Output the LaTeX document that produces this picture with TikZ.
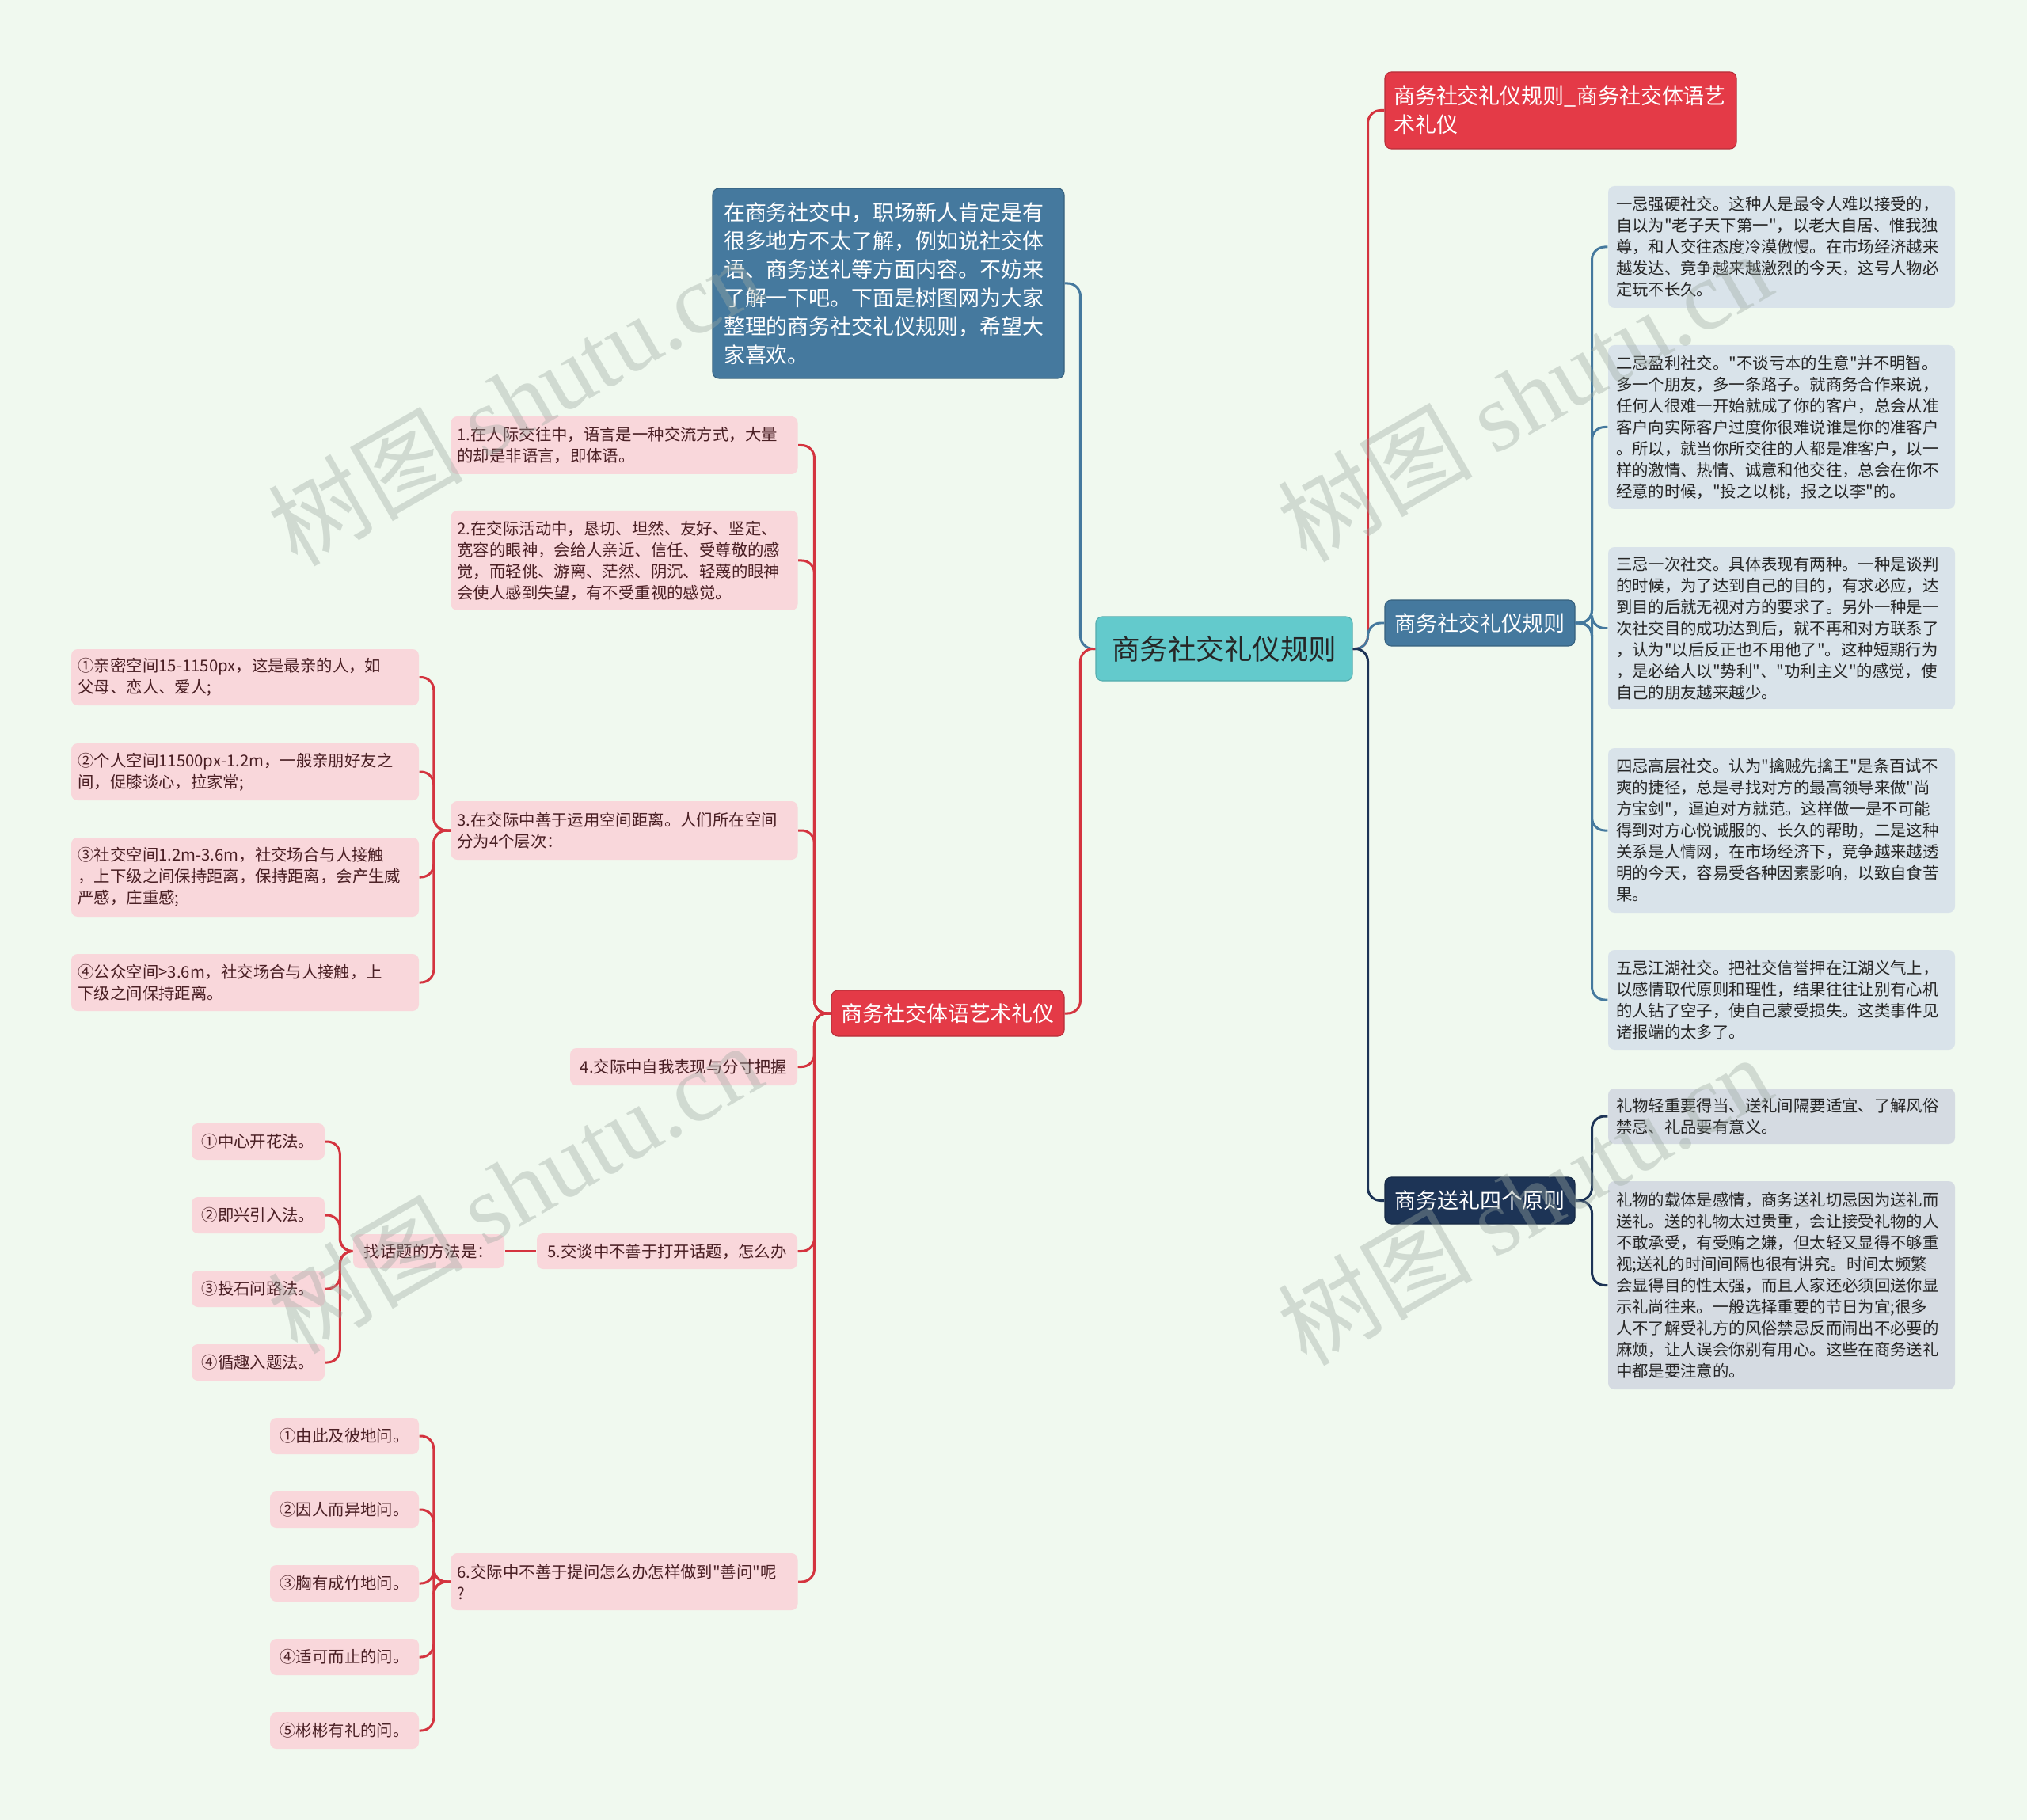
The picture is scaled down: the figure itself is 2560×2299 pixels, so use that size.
\documentclass[tikz,border=0pt]{standalone}
\usepackage{fontspec}
\setmainfont{Noto Sans CJK SC}
\newfontfamily\cjk{Noto Sans CJK SC}
\newfontfamily\wmserif{Liberation Serif}
\definecolor{bgc}{HTML}{F0F9EF}
\definecolor{rootc}{HTML}{63CACC}
\definecolor{bluec}{HTML}{45799E}
\definecolor{redc}{HTML}{E43A47}
\definecolor{navyc}{HTML}{1D3456}
\definecolor{rleafc}{HTML}{D9E3EA}
\definecolor{gleafc}{HTML}{D5DBE2}
\definecolor{pinkc}{HTML}{F9D7DB}
\definecolor{pinktxt}{HTML}{4A1F24}
\definecolor{darktxt}{HTML}{262626}
\definecolor{redline}{HTML}{D4343F}
\definecolor{wmc}{HTML}{9DAAA2}
\begin{document}
\begin{tikzpicture}[x=0.1mm,y=-0.1mm,
  box/.style={rounded corners=0.8mm, inner xsep=0pt, inner ysep=0pt, align=left},
  small/.style={font={\cjk\fontsize{5.8pt}{7.68pt}\selectfont}},
  mid/.style={font={\cjk\fontsize{7.68pt}{10.24pt}\selectfont}},
  rleaf/.style={box, small, fill=rleafc, text=darktxt, minimum width=43.8mm, text width=41.8mm},
  gleaf/.style={box, small, fill=gleafc, text=darktxt, minimum width=43.8mm, text width=41.8mm},
  pleaf/.style={box, small, fill=pinkc, text=pinktxt},
  wideleaf/.style={pleaf, minimum width=43.8mm, text width=42.2mm},
  shortleaf/.style={pleaf, align=center},
  topic/.style={box, mid, text=white, draw=#1!80!black, line width=0.3pt, fill=#1},
  conn/.style={line width=0.3mm, rounded corners=1.6mm, draw=#1},
  wm/.style={text=wmc, opacity=0.38, rotate=30, font={\cjk\fontsize{35pt}{35pt}\selectfont}}
]
\useasboundingbox (0,0) rectangle (2560,2299);
\fill[bgc] (0,0) rectangle (2560,2299);

% ---- main nodes
\node[box, fill=rootc, draw=rootc!85!black, line width=0.3pt, text=darktxt, align=center,
  minimum width=32.4mm, minimum height=8.1mm, font={\cjk\fontsize{10.1pt}{12pt}\selectfont}] (root) at (1546,819.5) {商务社交礼仪规则};

\node[topic=bluec, minimum width=44.4mm, text width=41.6mm, minimum height=24mm] (intro) at (1122,358)
 {在商务社交中，职场新人肯定是有\\很多地方不太了解，例如说社交体\\语、商务送礼等方面内容。不妨来\\了解一下吧。下面是树图网为大家\\整理的商务社交礼仪规则，希望大\\家喜欢。};

\node[topic=redc, minimum width=44.4mm, text width=42.2mm, minimum height=9.7mm] (rtop) at (1971,139.5)
 {商务社交礼仪规则\_商务社交体语艺\\术礼仪};

\node[topic=bluec, align=center, minimum width=24mm, minimum height=5.8mm] (rules) at (1869,787) {商务社交礼仪规则};
\node[topic=navyc, align=center, minimum width=24mm, minimum height=5.9mm] (gift) at (1869,1516.5) {商务送礼四个原则};
\node[topic=redc, align=center, minimum width=29.4mm, minimum height=5.8mm] (body) at (1197,1280) {商务社交体语艺术礼仪};

% ---- right leaves
\node[rleaf, minimum height=15.4mm] (r1) at (2250,312)
 {一忌强硬社交。这种人是最令人难以接受的，\\自以为"老子天下第一"，以老大自居、惟我独\\尊，和人交往态度冷漠傲慢。在市场经济越来\\越发达、竞争越来越激烈的今天，这号人物必\\定玩不长久。};
\node[rleaf, minimum height=20.7mm] (r2) at (2250,539.5)
 {二忌盈利社交。"不谈亏本的生意"并不明智。\\多一个朋友，多一条路子。就商务合作来说，\\任何人很难一开始就成了你的客户，总会从准\\客户向实际客户过度你很难说谁是你的准客户\\。所以，就当你所交往的人都是准客户，以一\\样的激情、热情、诚意和他交往，总会在你不\\经意的时候，"投之以桃，报之以李"的。};
\node[rleaf, minimum height=20.5mm] (r3) at (2250,793.5)
 {三忌一次社交。具体表现有两种。一种是谈判\\的时候，为了达到自己的目的，有求必应，达\\到目的后就无视对方的要求了。另外一种是一\\次社交目的成功达到后，就不再和对方联系了\\，认为"以后反正也不用他了"。这种短期行为\\，是必给人以"势利"、"功利主义"的感觉，使\\自己的朋友越来越少。};
\node[rleaf, minimum height=20.8mm] (r4) at (2250,1049)
 {四忌高层社交。认为"擒贼先擒王"是条百试不\\爽的捷径，总是寻找对方的最高领导来做"尚\\方宝剑"，逼迫对方就范。这样做一是不可能\\得到对方心悦诚服的、长久的帮助，二是这种\\关系是人情网，在市场经济下，竞争越来越透\\明的今天，容易受各种因素影响，以致自食苦\\果。};
\node[rleaf, minimum height=12.6mm] (r5) at (2250,1263)
 {五忌江湖社交。把社交信誉押在江湖义气上，\\以感情取代原则和理性，结果往往让别有心机\\的人钻了空子，使自己蒙受损失。这类事件见\\诸报端的太多了。};
\node[gleaf, minimum height=7mm] (g1) at (2250,1410)
 {礼物轻重要得当、送礼间隔要适宜、了解风俗\\禁忌、礼品要有意义。};
\node[gleaf, minimum height=26.3mm] (g2) at (2250,1623.5)
 {礼物的载体是感情，商务送礼切忌因为送礼而\\送礼。送的礼物太过贵重，会让接受礼物的人\\不敢承受，有受贿之嫌，但太轻又显得不够重\\视;送礼的时间间隔也很有讲究。时间太频繁\\会显得目的性太强，而且人家还必须回送你显\\示礼尚往来。一般选择重要的节日为宜;很多\\人不了解受礼方的风俗禁忌反而闹出不必要的\\麻烦，让人误会你别有用心。这些在商务送礼\\中都是要注意的。};

% ---- left leaves
\node[wideleaf, minimum height=7.3mm] (l1) at (788.5,562.5)
 {1.在人际交往中，语言是一种交流方式，大量\\的却是非语言，即体语。};
\node[wideleaf, minimum height=12.6mm] (l2) at (788.5,708)
 {2.在交际活动中，恳切、坦然、友好、坚定、\\宽容的眼神，会给人亲近、信任、受尊敬的感\\觉，而轻佻、游离、茫然、阴沉、轻蔑的眼神\\会使人感到失望，有不受重视的感觉。};
\node[wideleaf, minimum height=7.4mm] (l3) at (788.5,1049)
 {3.在交际中善于运用空间距离。人们所在空间\\分为4个层次：};
\node[shortleaf, minimum width=28.7mm, minimum height=4.7mm] (l4) at (863.5,1347.5)
 {4.交际中自我表现与分寸把握};
\node[shortleaf, minimum width=32.9mm, minimum height=4.5mm] (l5) at (842.5,1580.5)
 {5.交谈中不善于打开话题，怎么办};
\node[wideleaf, minimum height=7.2mm] (l6) at (788.5,1998)
 {6.交际中不善于提问怎么办怎样做到"善问"呢\\?};

% ---- level 3 (space)
\node[wideleaf, minimum width=43.9mm, minimum height=7.1mm] (s1) at (309.5,855.5)
 {①亲密空间15-1150px，这是最亲的人，如\\父母、恋人、爱人;};
\node[wideleaf, minimum width=43.9mm, minimum height=7.2mm] (s2) at (309.5,975)
 {②个人空间11500px-1.2m，一般亲朋好友之\\间，促膝谈心，拉家常;};
\node[wideleaf, minimum width=43.9mm, minimum height=10mm] (s3) at (309.5,1108)
 {③社交空间1.2m-3.6m，社交场合与人接触\\，上下级之间保持距离，保持距离，会产生威\\严感，庄重感;};
\node[wideleaf, minimum width=43.9mm, minimum height=7.2mm] (s4) at (309.5,1241)
 {④公众空间>3.6m，社交场合与人接触，上\\下级之间保持距离。};

% ---- topic finding
\node[shortleaf, minimum width=19.1mm, minimum height=4.3mm] (find) at (541.5,1580.5) {找话题的方法是：};
\node[shortleaf, minimum width=16.8mm, minimum height=4.6mm] (f1) at (326,1442) {①中心开花法。};
\node[shortleaf, minimum width=16.8mm, minimum height=4.6mm] (f2) at (326,1535) {②即兴引入法。};
\node[shortleaf, minimum width=16.8mm, minimum height=4.6mm] (f3) at (326,1628) {③投石问路法。};
\node[shortleaf, minimum width=16.8mm, minimum height=4.6mm] (f4) at (326,1721) {④循趣入题法。};

% ---- asking
\node[shortleaf, minimum width=18.8mm, minimum height=4.6mm] (q1) at (435,1814) {①由此及彼地问。};
\node[shortleaf, minimum width=18.8mm, minimum height=4.6mm] (q2) at (435,1907) {②因人而异地问。};
\node[shortleaf, minimum width=18.8mm, minimum height=4.6mm] (q3) at (435,2000) {③胸有成竹地问。};
\node[shortleaf, minimum width=18.8mm, minimum height=4.6mm] (q4) at (435,2093) {④适可而止的问。};
\node[shortleaf, minimum width=18.8mm, minimum height=4.6mm] (q5) at (435,2186) {⑤彬彬有礼的问。};

% ---- connectors
\draw[conn=bluec] (root.west) -- ++(-1.9mm,0) |- (intro.east);
\draw[conn=redline] (root.west) -- ++(-1.9mm,0) |- (body.east);
\draw[conn=redline] (root.east) -- ++(1.9mm,0) |- (rtop.west);
\draw[conn=bluec] (root.east) -- ++(1.9mm,0) |- (rules.west);
\draw[conn=navyc] (root.east) -- ++(1.9mm,0) |- (gift.west);

\foreach \n in {r1,r2,r3,r4,r5}
  \draw[conn=bluec] (rules.east) -- ++(2.1mm,0) |- (\n.west);
\foreach \n in {g1,g2}
  \draw[conn=navyc] (gift.east) -- ++(2.1mm,0) |- (\n.west);

\foreach \n in {l1,l2,l3,l4,l5,l6}
  \draw[conn=redline] (body.west) -- ++(-2.1mm,0) |- (\n.east);
\foreach \n in {s1,s2,s3,s4}
  \draw[conn=redline] (l3.west) -- ++(-2.1mm,0) |- (\n.east);
\draw[conn=redline] (l5.west) -- (find.east);
\foreach \n in {f1,f2,f3,f4}
  \draw[conn=redline] (find.west) -- ++(-1.6mm,0) |- (\n.east);
\foreach \n in {q1,q2,q3,q4,q5}
  \draw[conn=redline] (l6.west) -- ++(-2.1mm,0) |- (\n.east);

% ---- watermarks
\node[wm] (wm1) at (650,505) {树图 {\wmserif shutu.cn}};
\node[wm] (wm2) at (1925,500) {树图 {\wmserif shutu.cn}};
\node[wm] (wm3) at (650,1500) {树图 {\wmserif shutu.cn}};
\node[wm] (wm4) at (1925,1515) {树图 {\wmserif shutu.cn}};
\end{tikzpicture}
\end{document}
